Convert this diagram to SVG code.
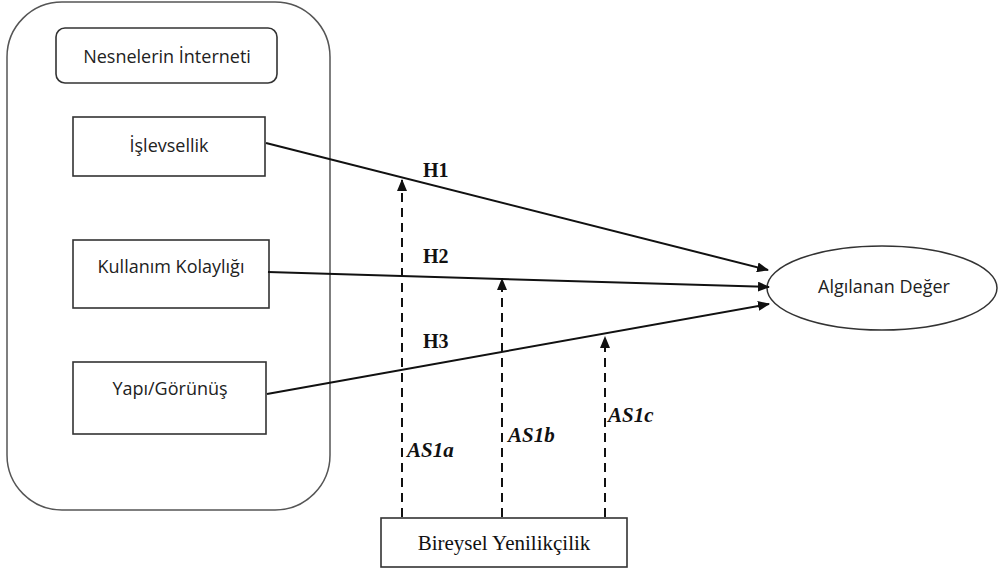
<svg xmlns="http://www.w3.org/2000/svg" width="1000" height="572" viewBox="0 0 1000 572">
<defs>
<style>
.box{fill:#fff;stroke:#333;stroke-width:1.6}
.cal{font-family:"Open Sans","Liberation Sans",sans-serif;font-size:18px;fill:#222;text-anchor:middle}
.tnr{font-family:"Liberation Serif",serif;fill:#111}
.ln{stroke:#111;stroke-width:2;fill:none}
.dash{stroke:#111;stroke-width:2;fill:none;stroke-dasharray:9,6}
</style>
<marker id="ah" markerWidth="12" markerHeight="10" refX="11" refY="5" orient="auto" markerUnits="userSpaceOnUse">
<path d="M0,0 L12,5 L0,10 Z" fill="#111"/>
</marker>
</defs>
<rect width="1000" height="572" fill="#fff"/>
<g id="container">
<rect x="7" y="2" width="323" height="508" rx="55" ry="55" fill="#fff" stroke="#555" stroke-width="1.5"/>
</g>
<g id="n-iot">
<rect class="box" x="56" y="28" width="221" height="55" rx="9" ry="9"/>
<text class="cal" x="167" y="63">Nesnelerin İnterneti</text>
</g>
<g id="n-islev">
<rect class="box" x="73" y="117" width="192" height="59"/>
<text class="cal" x="169" y="152">İşlevsellik</text>
</g>
<g id="n-kullanim">
<rect class="box" x="73" y="240" width="196" height="68"/>
<text class="cal" x="171" y="273">Kullanım Kolaylığı</text>
</g>
<g id="n-yapi">
<rect class="box" x="73" y="362" width="193" height="72"/>
<text class="cal" x="170" y="395">Yapı/Görünüş</text>
</g>
<g id="n-deger">
<ellipse cx="882" cy="288" rx="115" ry="42" fill="#fff" stroke="#333" stroke-width="1.5"/>
<text class="cal" x="884" y="293">Algılanan Değer</text>
</g>
<g id="n-bireysel">
<rect class="box" x="381" y="518" width="246" height="49"/>
<text class="tnr" x="504" y="550" font-size="21" text-anchor="middle">Bireysel Yenilikçilik</text>
</g>
<g id="connectors">
<line class="ln" x1="266" y1="143" x2="768" y2="270" marker-end="url(#ah)"/>
<line class="ln" x1="268" y1="272" x2="769" y2="287" marker-end="url(#ah)"/>
<line class="ln" x1="267" y1="394" x2="769" y2="304" marker-end="url(#ah)"/>
<line class="dash" x1="402" y1="517" x2="402" y2="180" marker-end="url(#ah)"/>
<line class="dash" x1="502" y1="517" x2="502" y2="279" marker-end="url(#ah)"/>
<line class="dash" x1="605" y1="517" x2="605" y2="337" marker-end="url(#ah)"/>
<text class="tnr" x="423" y="177" font-size="20" font-weight="bold">H1</text>
<text class="tnr" x="423" y="263" font-size="20" font-weight="bold">H2</text>
<text class="tnr" x="423" y="348" font-size="20" font-weight="bold">H3</text>
<text class="tnr" x="407" y="457" font-size="21" font-style="italic" font-weight="bold">AS1a</text>
<text class="tnr" x="508" y="442" font-size="21" font-style="italic" font-weight="bold">AS1b</text>
<text class="tnr" x="608" y="422" font-size="21" font-style="italic" font-weight="bold">AS1c</text>
</g>
</svg>
